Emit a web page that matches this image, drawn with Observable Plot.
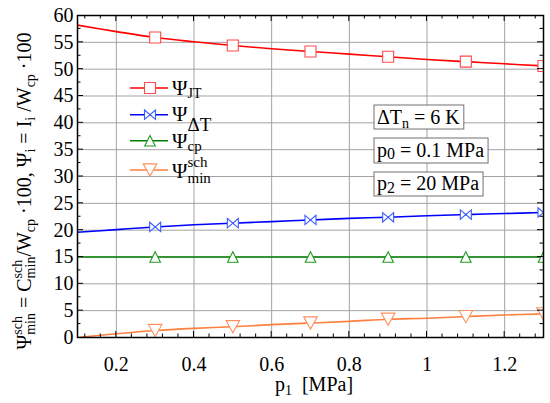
<!DOCTYPE html>
<html><head><meta charset="utf-8">
<script src="https://cdn.jsdelivr.net/npm/d3@7"></script>
<script src="https://cdn.jsdelivr.net/npm/@observablehq/plot@0.6"></script>
<style>body{margin:0;background:#fff} svg{display:block} svg text{white-space:pre}</style>
</head><body><div id="chart"></div>
<script>
// ---- data ----
const p1 = [0.1,0.2,0.3,0.4,0.5,0.6,0.7,0.8,0.9,1.0,1.1,1.2,1.3];
const psiJT  = [58.2,57.0,55.9,55.1,54.4,53.8,53.3,52.8,52.3,51.8,51.4,51.0,50.6];
const psiDT  = [19.6,20.1,20.6,21.0,21.3,21.6,21.9,22.2,22.4,22.7,22.9,23.1,23.3];
const psiCp  = [15,15,15,15,15,15,15,15,15,15,15,15,15];
const psiMin = [0.0,0.7,1.3,1.7,2.0,2.4,2.7,3.0,3.4,3.6,3.9,4.2,4.4];
const markerP = [0.3,0.5,0.7,0.9,1.1,1.3];
const xTicks = [0.2,0.4,0.6,0.8,1.0,1.2];
const xTickLabels = ["0.2","0.4","0.6","0.8","1","1.2"];
const yTicks = [0,5,10,15,20,25,30,35,40,45,50,55,60];
const seriesNames = ["JT","DT","cp","min"];
const seriesColors = ["#ff0000","#0000ff","#008000","#ff7f3f"];
const markerColors = ["#ff4a4a","#3a5cff","#1f9a1f","#ff8f5e"];

// ---- pick an installed serif face ----
function hasFont(f){
  const c=document.createElement("canvas").getContext("2d");
  const s="mmmmmmmmmmlliWWQ0.12";
  c.font=`40px monospace`; const a=c.measureText(s).width;
  c.font=`40px "${f}", monospace`; const b=c.measureText(s).width;
  c.font=`40px sans-serif`; const a2=c.measureText(s).width;
  c.font=`40px "${f}", sans-serif`; const b2=c.measureText(s).width;
  return a!==b || a2!==b2;
}
const serifCandidates=["Liberation Serif","Tinos","Times New Roman","DejaVu Serif","Noto Serif","FreeSerif","Nimbus Roman","Times"];
const picked = serifCandidates.find(hasFont);
const FONT = picked ? `'${picked}', serif` : "serif";
const st=document.createElement("style");
st.textContent=`svg text{font-family:${FONT} !important;}`;
document.head.appendChild(st);

// ---- custom marker symbols ----
const rOf = size => Math.sqrt(size/Math.PI);
const symSquare = {draw(c,s){const r=rOf(s); c.rect(-r,-r,2*r,2*r);}};
const symBowtie = {draw(c,s){const r=rOf(s); const h=r*0.85; c.moveTo(-r,-h); c.lineTo(r,h); c.lineTo(r,-h); c.lineTo(-r,h); c.closePath();}};
const symUp = {draw(c,s){const r=rOf(s); c.moveTo(0,-r); c.lineTo(r,r); c.lineTo(-r,r); c.closePath();}};
const symDown = {draw(c,s){const r=rOf(s); const h=r*0.9; c.moveTo(-r,-h); c.lineTo(r,-h); c.lineTo(0,h); c.closePath();}};
const symbols = [symSquare, symBowtie, symUp, symDown];
const symR = [5.5, 5.5, 5.3, 6.8];

const seriesVals = [psiJT, psiDT, psiCp, psiMin];
const lineData = seriesVals.map((vals,k)=>p1.map((x,i)=>({x, y: vals[i], k})));
const dotData = seriesVals.map((vals,k)=>markerP.map(x=>({x, y: vals[p1.findIndex(v=>Math.abs(v-x)<1e-9)], k})));

const W=550, H=403, ML=77, MR=7, MT=15, MB=66;

const marks = [
  Plot.gridX(xTicks, {stroke:"#a3a3a3", strokeOpacity:1, strokeWidth:1}),
  Plot.gridY(yTicks.slice(1,-1), {stroke:"#a3a3a3", strokeOpacity:1, strokeWidth:1}),
  Plot.axisX(xTicks, {tickSize:0, tickPadding:19, tickFormat:d=>xTickLabels[xTicks.indexOf(d)], fontSize:20, label:null}),
  Plot.axisY(yTicks, {tickSize:0, tickPadding:4, fontSize:20, label:null}),
];
seriesVals.forEach((_,k)=>{
  marks.push(Plot.line(lineData[k], {x:"x", y:"y", stroke:seriesColors[k], strokeWidth:1.6, curve:"catmull-rom", clip:"frame"}));
});
seriesVals.forEach((_,k)=>{
  marks.push(Plot.dot(dotData[k], {x:"x", y:"y", symbol:symbols[k], r:symR[k], stroke:markerColors[k], strokeWidth:1.1, fill:"#fff", clip:"frame"}));
});
marks.push(Plot.frame({stroke:"#000", strokeWidth:1.5}));

const plot = Plot.plot({
  width:W, height:H, marginLeft:ML, marginRight:MR, marginTop:MT, marginBottom:MB,
  style:{fontFamily:FONT, fontSize:"20px", background:"#fff", color:"#000", overflow:"visible"},
  x:{domain:[0.1,1.3]}, y:{domain:[0,60]},
  marks
});
document.getElementById("chart").appendChild(plot);

const svg = d3.select(plot);
const xs = plot.scale("x"), ys = plot.scale("y");

// ---- inward ticks on all four sides ----
const tg = svg.append("g").attr("stroke","#000").attr("stroke-width",1);
const x0=ML, x1=W-MR, y0=MT, y1=H-MB;
const xMinor = d3.range(0.12, 1.3, 0.04).filter(v=>Math.abs(v/0.2-Math.round(v/0.2))>1e-6);
const yMinor = d3.range(2.5, 60, 5);
function ticksX(vals,len){ vals.forEach(v=>{const X=xs.apply(v);
  tg.append("line").attr("x1",X).attr("x2",X).attr("y1",y1).attr("y2",y1-len);
  tg.append("line").attr("x1",X).attr("x2",X).attr("y1",y0).attr("y2",y0+len);});}
function ticksY(vals,len){ vals.forEach(v=>{const Y=ys.apply(v);
  tg.append("line").attr("y1",Y).attr("y2",Y).attr("x1",x0).attr("x2",x0+len);
  tg.append("line").attr("y1",Y).attr("y2",Y).attr("x1",x1).attr("x2",x1-len);});}
ticksX(xTicks,6); ticksX(xMinor,3.5); ticksY(yTicks.slice(1,-1),6); ticksY(yMinor,3.5);

// ---- rich text helper (sub/superscripts) ----
function rich(parent, x, y, segs, opts={}) {
  const outer = parent.append("g").attr("transform", `translate(${x},${y})` + (opts.rotate?` rotate(${opts.rotate})`:""));
  const g = outer.append("g").attr("fill","#000").attr("text-anchor","start");
  let cx=0, prevStart=0, prevW=0;
  for (const s of segs) {
    const start = s.stack ? prevStart : cx;
    const t = g.append("text").attr("x",start).attr("y",s.dy||0).attr("font-size",s.size)
      .attr("text-anchor","start").style("font-size", s.size+"px").text(s.t);
    const w = t.node().getComputedTextLength();
    cx = s.stack ? prevStart + Math.max(prevW,w) : start + w;
    prevStart = start; prevW = w;
  }
  if (opts.anchor==="middle") g.attr("transform",`translate(${-cx/2},0)`);
  return cx;
}
const M=20, S=14;

// x-axis label
rich(svg, 314, 391, [{t:"p",size:M},{t:"1",size:S,dy:4},{t:"  [MPa]",size:M}], {anchor:"middle"});

// y-axis label
rich(svg, 31, 191, [
  {t:"Ψ",size:M},{t:"sch",size:S,dy:-9},{t:"min",size:S,dy:4,stack:true},
  {t:" = C",size:M},{t:"sch",size:S,dy:-9},{t:"min",size:S,dy:4,stack:true},
  {t:"/W",size:M},{t:"cp",size:S,dy:4},
  {t:" ·100, Ψ",size:M},{t:"i",size:S,dy:4},
  {t:" = I",size:M},{t:"i",size:S,dy:4},
  {t:" /W",size:M},{t:"cp",size:S,dy:4},
  {t:" ·100",size:M}
], {rotate:-90, anchor:"middle"});

// ---- legend ----
const legRows = [88, 114.7, 140.7, 170];
const legLabels = [
  [{t:"Ψ",size:21},{t:"JT",size:14,dy:2.5}],
  [{t:"Ψ",size:21},{t:"ΔT",size:19,dy:10}],
  [{t:"Ψ",size:21},{t:"cp",size:15,dy:2.5}],
  [{t:"Ψ",size:21},{t:"sch",size:15,dy:-11},{t:"min",size:15,dy:5,stack:true}]
];
const lg = svg.append("g");
legRows.forEach((y,k)=>{
  lg.append("line").attr("x1",130).attr("x2",168).attr("y1",y).attr("y2",y).attr("stroke",seriesColors[k]).attr("stroke-width",1.6);
  lg.append("path").attr("transform",`translate(150,${y})`)
    .attr("d", d3.symbol(symbols[k], symR[k]*symR[k]*Math.PI)())
    .attr("fill","#fff").attr("stroke",markerColors[k]).attr("stroke-width",1.1);
  const base = [95,121,148,178][k];
  rich(lg, 172, base, legLabels[k]);
});

// ---- parameter boxes ----
const boxes = [
  {y:105, h:24, base:124, segs:[{t:"ΔT",size:M},{t:"n",size:S,dy:4},{t:" = 6 K",size:M}]},
  {y:138, h:25, base:157, segs:[{t:"p",size:M},{t:"0",size:16,dy:2},{t:" = 0.1 MPa",size:M}]},
  {y:172, h:24, base:190, segs:[{t:"p",size:M},{t:"2",size:16,dy:3},{t:" = 20 MPa",size:M}]}
];
boxes.forEach(b=>{
  const rect = svg.append("rect").attr("x",374).attr("y",b.y).attr("height",b.h).attr("fill","#fff").attr("stroke","#707070").attr("stroke-width",1);
  const w = rich(svg, 377, b.base, b.segs);
  rect.attr("width", w+7);
});
</script></body></html>
